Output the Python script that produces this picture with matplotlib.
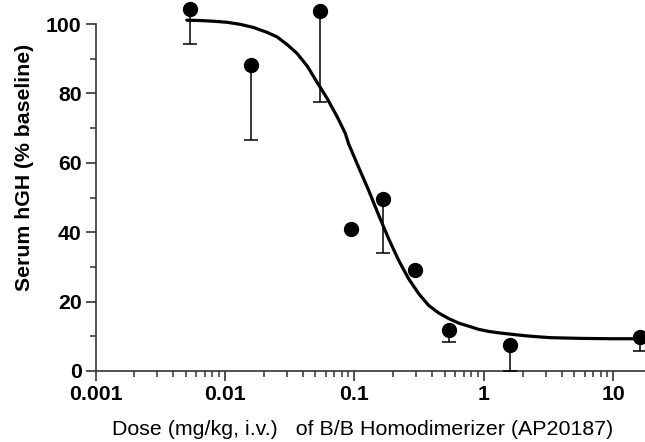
import numpy as np
import matplotlib
matplotlib.use("Agg")
import matplotlib.pyplot as plt
from matplotlib.ticker import FixedLocator, FixedFormatter, LogLocator, NullFormatter, MultipleLocator

plt.rcParams['font.family'] = ['Liberation Sans', 'DejaVu Sans']

# measured points (mean, lower error only)
dose = [0.0054, 0.016, 0.054, 0.095, 0.165, 0.293, 0.537, 1.59, 16.0]
hgh = [104.4, 88.1, 103.7, 41.0, 49.7, 29.0, 11.7, 7.4, 9.8]
err_low = [10.1, 21.6, 26.2, 0.0, 15.6, 0.0, 3.3, 7.4, 4.0]

# fitted curve
curve_dose = [0.00508, 0.00644, 0.00817, 0.01035, 0.01312, 0.01663, 0.02113,
              0.02523, 0.0302, 0.0361, 0.0432, 0.0515, 0.0615, 0.0736,
              0.0851, 0.0902, 0.1076, 0.1288, 0.1538, 0.1841, 0.2198, 0.2624,
              0.314, 0.375, 0.449, 0.536, 0.640, 0.766, 0.914, 1.094, 1.306,
              1.714, 2.175, 2.755, 3.30, 5.62, 9.60, 15.96]
curve_pct = [101.1, 101.0, 100.8, 100.5, 99.9, 99.0, 97.6,
             96.3, 94.1, 91.5, 87.9, 83.2, 78.6, 73.3,
             68.5, 65.5, 58.8, 52.1, 45.0, 38.1, 31.9, 26.6,
             22.3, 18.9, 16.7, 15.1, 13.8, 12.9, 12.0, 11.4, 11.0,
             10.5, 10.1, 9.8, 9.6, 9.4, 9.3, 9.3]

x_ticks = [0.001, 0.01, 0.1, 1, 10]
x_tick_labels = ['0.001', '0.01', '0.1', '1', '10']
y_ticks = [0, 20, 40, 60, 80, 100]

fig = plt.figure(figsize=(6.45, 4.42), dpi=100)
ax = fig.add_axes([95.5 / 645, 71 / 442, 549.5 / 645, 347 / 442])

ax.plot(curve_dose, curve_pct, color='black', lw=2.3, solid_capstyle='round',
        solid_joinstyle='round', clip_on=False, zorder=2)
ax.errorbar(dose, hgh, yerr=[err_low, [0] * len(err_low)], fmt='none',
            ecolor='black', elinewidth=1.1, capsize=5, capthick=1.1,
            clip_on=False, zorder=3)
ax.plot(dose, hgh, 'o', color='black', markersize=10, clip_on=False, zorder=4)

ax.set_xscale('log')
ax.set_xlim(0.001, 17.6)
ax.set_ylim(0, 100)

ax.xaxis.set_major_locator(FixedLocator(x_ticks))
ax.xaxis.set_major_formatter(FixedFormatter(x_tick_labels))
ax.xaxis.set_minor_locator(LogLocator(base=10, subs=np.arange(2, 10)))
ax.xaxis.set_minor_formatter(NullFormatter())
ax.yaxis.set_major_locator(FixedLocator(y_ticks))
ax.yaxis.set_minor_locator(MultipleLocator(10))

for s in ['top', 'right']:
    ax.spines[s].set_visible(False)
for s in ['left', 'bottom']:
    ax.spines[s].set_linewidth(1.2)
    ax.spines[s].set_color('#333333')

ax.tick_params(which='major', length=7, width=1.2, color='#333333', pad=3)
ax.tick_params(which='minor', length=4.5, width=1.1, color='#333333')
for lbl in ax.get_xticklabels() + ax.get_yticklabels():
    lbl.set_fontsize(15.3)
    lbl.set_fontweight('bold')

ax.set_ylabel('Serum hGH (% baseline)', fontsize=15.3, fontweight='bold')
ax.yaxis.label.set_va('center')
ax.yaxis.set_label_coords(-0.13, 0.586)
ax.set_xlabel('Dose (mg/kg, i.v.)   of B/B Homodimerizer (AP20187)', fontsize=15.4)
ax.xaxis.label.set_va('center')
ax.xaxis.set_label_coords(0.486, -0.168)

fig.savefig('out.png', dpi=100)
